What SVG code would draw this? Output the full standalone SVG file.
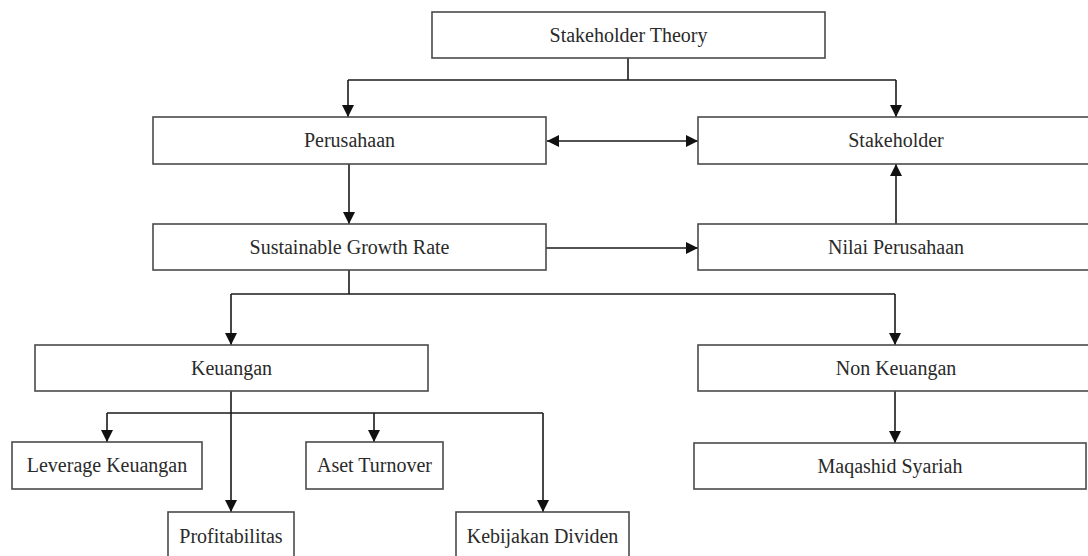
<svg xmlns="http://www.w3.org/2000/svg" width="1088" height="556" viewBox="0 0 1088 556">
<style>
.box{fill:#fff;stroke:#4a4a4a;stroke-width:1.6}
.lbl{font-family:"Liberation Serif","Times New Roman",serif;font-size:20px;fill:#2a2a2a;text-anchor:middle}
.ln{fill:none;stroke:#1a1a1a;stroke-width:1.6}
</style>
<defs>
<marker id="ah" markerUnits="userSpaceOnUse" markerWidth="13" markerHeight="13" refX="12" refY="6.5" orient="auto-start-reverse">
<path d="M0,0.5 L12,6.5 L0,12.5 z" fill="#111"/>
</marker>
</defs>
<rect width="1088" height="556" fill="#fff"/>
<g id="connectors">
<path class="ln" d="M628,58 V80"/>
<path class="ln" d="M348,80 H896"/>
<path class="ln" d="M348,80 V117" marker-end="url(#ah)"/>
<path class="ln" d="M896,80 V117" marker-end="url(#ah)"/>
<path class="ln" d="M547,141 H698" marker-start="url(#ah)" marker-end="url(#ah)"/>
<path class="ln" d="M349,164 V224" marker-end="url(#ah)"/>
<path class="ln" d="M546,248 H698" marker-end="url(#ah)"/>
<path class="ln" d="M896,224 V164" marker-end="url(#ah)"/>
<path class="ln" d="M349,270 V294"/>
<path class="ln" d="M231,294 H895"/>
<path class="ln" d="M231,294 V345" marker-end="url(#ah)"/>
<path class="ln" d="M895,294 V345" marker-end="url(#ah)"/>
<path class="ln" d="M231,391 V512" marker-end="url(#ah)"/>
<path class="ln" d="M107,413 H543"/>
<path class="ln" d="M107,413 V442" marker-end="url(#ah)"/>
<path class="ln" d="M374,413 V442" marker-end="url(#ah)"/>
<path class="ln" d="M543,413 V512" marker-end="url(#ah)"/>
<path class="ln" d="M895,391 V443" marker-end="url(#ah)"/>
</g>
<g id="stakeholder-theory"><rect class="box" x="432" y="12" width="393" height="46"/><text class="lbl" x="628.5" y="42">Stakeholder Theory</text></g>
<g id="perusahaan"><rect class="box" x="153" y="117" width="393" height="47"/><text class="lbl" x="349.5" y="147">Perusahaan</text></g>
<g id="stakeholder"><rect class="box" x="698" y="117" width="396" height="47"/><text class="lbl" x="896" y="147">Stakeholder</text></g>
<g id="sgr"><rect class="box" x="153" y="224" width="393" height="46"/><text class="lbl" x="349.5" y="254">Sustainable Growth Rate</text></g>
<g id="nilai-perusahaan"><rect class="box" x="698" y="224" width="396" height="46"/><text class="lbl" x="896" y="254">Nilai Perusahaan</text></g>
<g id="keuangan"><rect class="box" x="35" y="345" width="393" height="46"/><text class="lbl" x="231.5" y="375">Keuangan</text></g>
<g id="non-keuangan"><rect class="box" x="698" y="345" width="396" height="46"/><text class="lbl" x="896" y="375">Non Keuangan</text></g>
<g id="leverage"><rect class="box" x="12" y="442" width="190" height="47"/><text class="lbl" x="107" y="472">Leverage Keuangan</text></g>
<g id="aset-turnover"><rect class="box" x="306" y="442" width="137" height="47"/><text class="lbl" x="374.5" y="472">Aset Turnover</text></g>
<g id="maqashid"><rect class="box" x="694" y="443" width="392" height="46"/><text class="lbl" x="890" y="473">Maqashid Syariah</text></g>
<g id="profitabilitas"><rect class="box" x="168" y="512" width="126" height="50"/><text class="lbl" x="231" y="543">Profitabilitas</text></g>
<g id="kebijakan-dividen"><rect class="box" x="456" y="512" width="173" height="50"/><text class="lbl" x="542.5" y="543">Kebijakan Dividen</text></g>
</svg>
